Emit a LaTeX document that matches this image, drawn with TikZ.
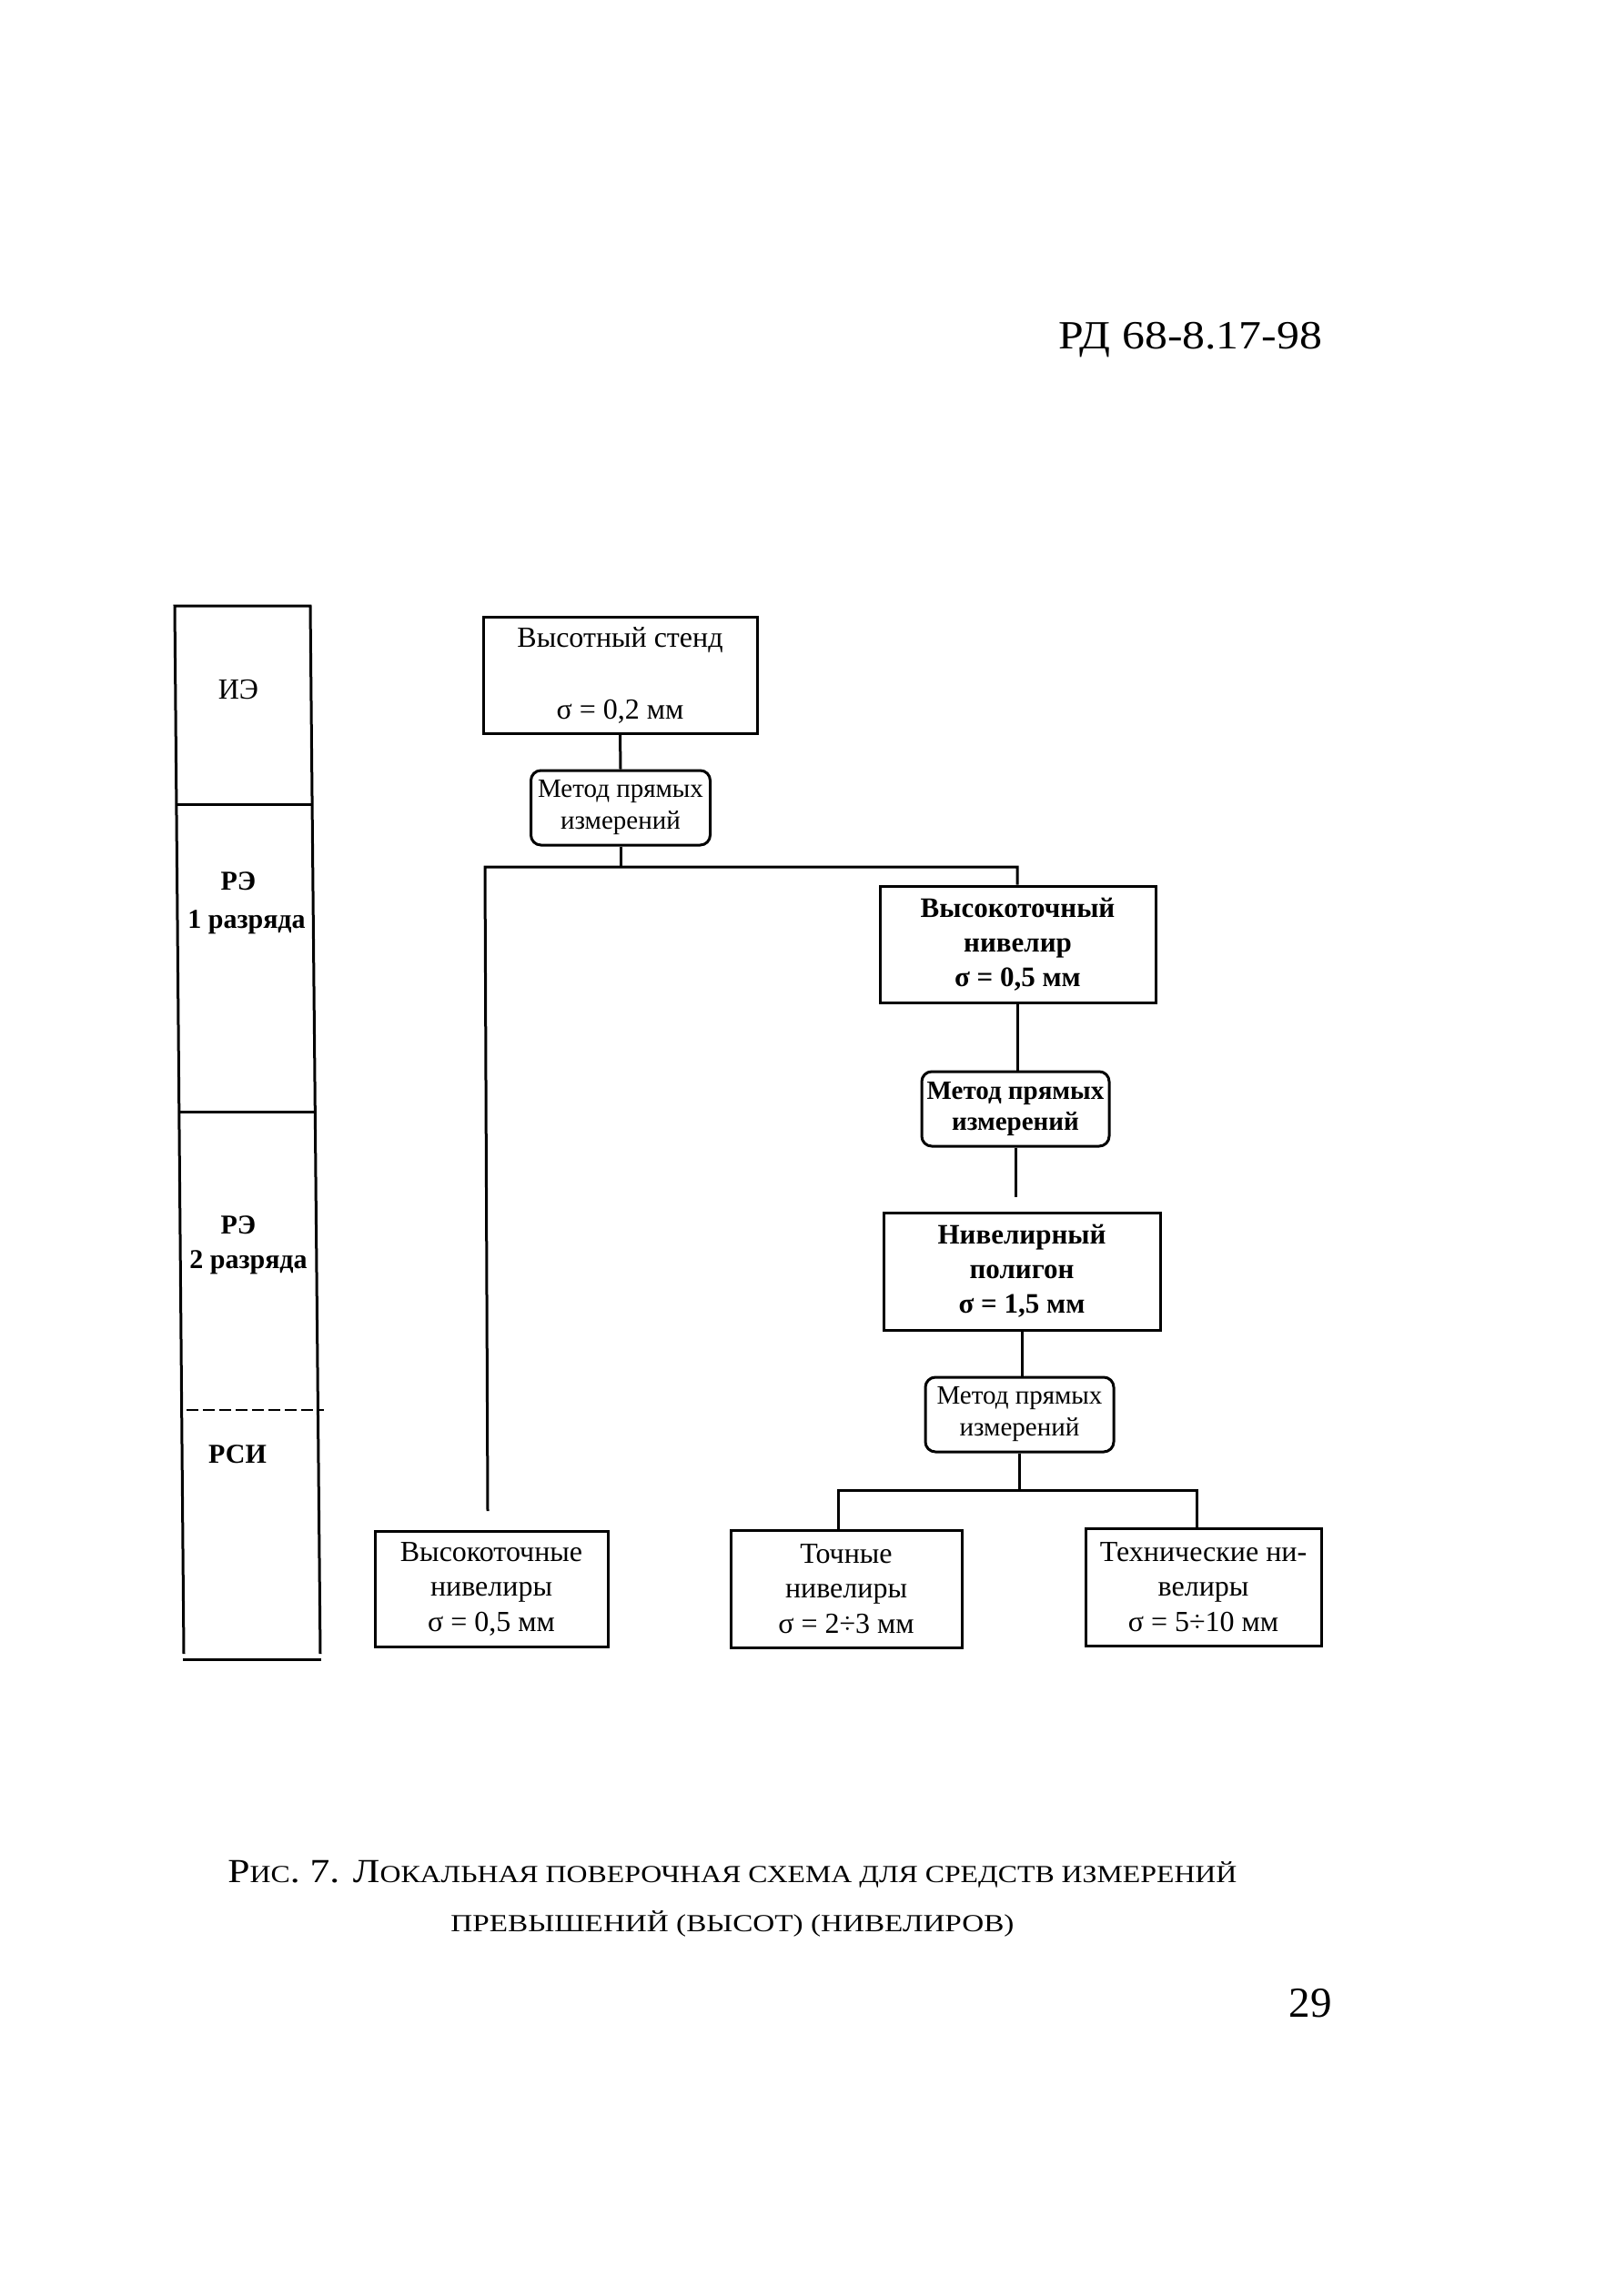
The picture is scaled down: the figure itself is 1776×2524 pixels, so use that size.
\documentclass[tikz,border=0pt]{standalone}
\usepackage{fontspec}
\setmainfont{Liberation Serif}
\usepackage{graphicx}
\newcommand\smallcap[1]{{\fontsize{27}{32}\selectfont #1}}
\begin{document}
\begin{tikzpicture}[x=1pt,y=-1pt,line width=3pt,
  box/.style={draw,line width=3pt,inner sep=0pt,align=center,font=\fontsize{32}{38.5}\selectfont},
  boldbox/.style={box,font=\fontsize{31}{38}\selectfont\bfseries},
  methodbox/.style={draw,line width=3pt,inner sep=0pt,align=center,rounded corners=11pt,
     font=\fontsize{29}{35}\selectfont,minimum width=200pt,minimum height=82pt},
  lbl/.style={inner sep=0pt,font=\fontsize{32}{38}\selectfont},
  blbl/.style={inner sep=0pt,font=\fontsize{30}{36}\selectfont\bfseries}
]
\useasboundingbox (0,0) rectangle (1776,2524);
\fill[white] (0,0) rectangle (1776,2524);

% header and page number
\node[inner sep=0pt,anchor=base,font=\fontsize{44}{50}\selectfont] (hdr) at (1308,383)
  {\resizebox{290pt}{\height}{РД 68-8.17-98}};
\node[inner sep=0pt,anchor=base,font=\fontsize{47}{54}\selectfont] (pg) at (1440,2217) {29};

% left column
\coordinate (cTL) at (192,666);
\coordinate (cTR) at (341,666);
\coordinate (cBL) at (202,1818);
\coordinate (cBR) at (352,1818);
\draw (cBL) -- (cTL) -- (cTR) -- (cBR);
\coordinate (bL) at (201,1824);
\coordinate (bR) at (353,1824);
\draw (bL) -- (bR);
\coordinate (d1L) at (194,884);
\coordinate (d1R) at (343,884);
\draw (d1L) -- (d1R);
\coordinate (d2L) at (197,1222);
\coordinate (d2R) at (346,1222);
\draw (d2L) -- (d2R);
\coordinate (d3L) at (205,1550);
\coordinate (d3R) at (356,1550);
\draw[line width=2pt,dash pattern=on 13pt off 5pt] (d3L) -- (d3R);

\node[lbl] (ie) at (262,758) {ИЭ};
\node[blbl] (re1) at (262,969) {РЭ};
\node[blbl] (re1b) at (271,1014) {1 разряда};
\node[blbl] (re2) at (262,1347) {РЭ};
\node[blbl] (re2b) at (273,1388) {2 разряда};
\node[blbl] (rsi) at (261,1599) {РСИ};

% boxes
\node[box,minimum width=301pt,minimum height=128pt] (stend) at (681.5,742)
  {Высотный стенд\\[40.5pt]σ = 0,2 мм};
\node[methodbox,minimum width=197pt] (m1) at (682,888) {Метод прямых\\измерений};
\node[boldbox,minimum width=303pt,minimum height=128pt] (vtn) at (1118.5,1038)
  {Высокоточный\\нивелир\\σ = 0,5 мм};
\node[methodbox,minimum width=206pt,font=\fontsize{29}{34}\selectfont\bfseries] (m2) at (1116,1219) {Метод прямых\\измерений};
\node[boldbox,minimum width=304pt,minimum height=129pt] (poly) at (1123,1397.5)
  {Нивелирный\\полигон\\σ = 1,5 мм};
\node[methodbox,minimum width=207pt] (m3) at (1120.5,1555) {Метод прямых\\измерений};
\node[box,minimum width=256pt,minimum height=127pt] (bvt) at (540,1746.5)
  {Высокоточные\\нивелиры\\σ = 0,5 мм};
\node[box,minimum width=254pt,minimum height=129pt] (toch) at (930,1746.5)
  {Точные\\нивелиры\\σ = 2÷3 мм};
\node[box,minimum width=259pt,minimum height=129pt] (tech) at (1322.5,1744.5)
  {Технические ни-\\велиры\\σ = 5÷10 мм};

% connectors
\draw (stend.south) -- (m1.north);
\coordinate (j1l) at (533,953);
\coordinate (j1r) at (1118,953);
\coordinate (e1) at (536,1661);
\draw (m1.south) -- (m1.south |- j1l);
\draw (j1r |- vtn.north) -- (j1r) -- (j1l) -- (e1);
\draw (vtn.south) -- (vtn.south |- m2.north);
\coordinate (g2) at (1120,1316);
\draw (m2.south) -- (m2.south |- g2);
\draw (poly.south) -- (poly.south |- m3.north);
\coordinate (j2l) at (921,1638);
\coordinate (j2r) at (1315,1638);
\draw (m3.south) -- (m3.south |- j2l);
\draw (j2l |- toch.north) -- (j2l) -- (j2r) -- (j2r |- tech.north);

% caption
\node[inner sep=0pt,anchor=base,font=\fontsize{37}{44}\selectfont] (cap1) at (805,2069)
  {\resizebox{1109pt}{\height}{Р\smallcap{ИС}. 7. Л\smallcap{ОКАЛЬНАЯ ПОВЕРОЧНАЯ СХЕМА ДЛЯ СРЕДСТВ ИЗМЕРЕНИЙ}}};
\node[inner sep=0pt,anchor=base,font=\fontsize{37}{44}\selectfont] (cap2) at (805,2123)
  {\resizebox{619pt}{\height}{\smallcap{ПРЕВЫШЕНИЙ (ВЫСОТ) (НИВЕЛИРОВ)}}};
\end{tikzpicture}
\end{document}
